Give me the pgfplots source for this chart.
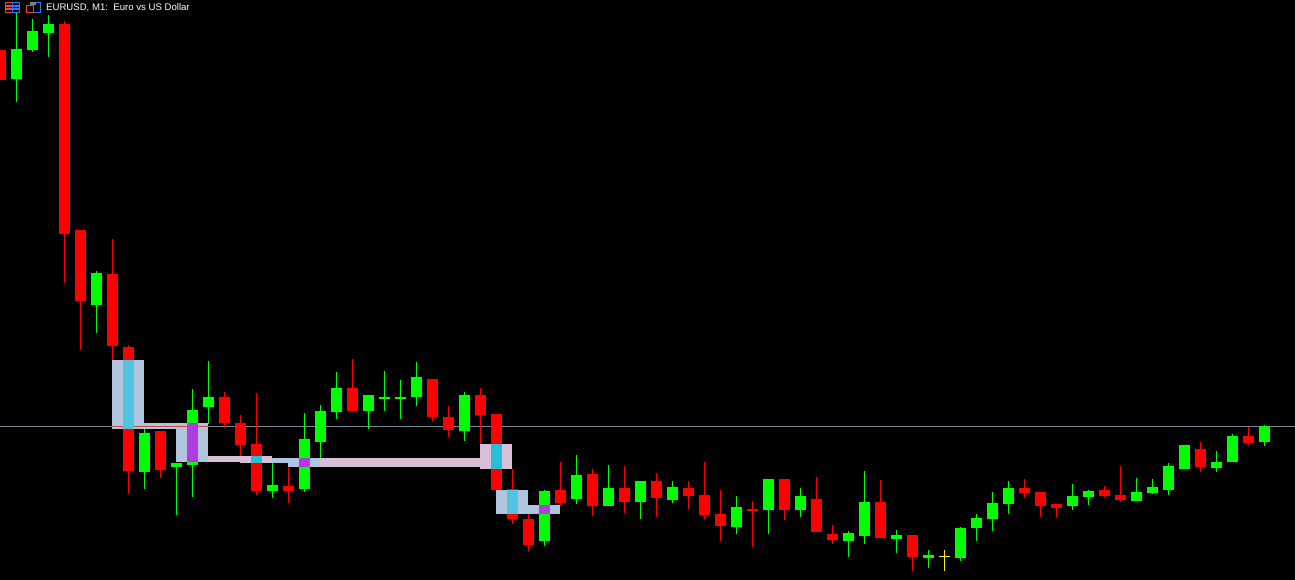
\documentclass[border=0pt]{standalone}
\usepackage{fontspec}
\setmainfont{Liberation Sans}
\usepackage{pgfplots}
\usepackage{pgfplotstable}
\pgfplotsset{compat=1.18}

\definecolor{bull}{RGB}{0,255,0}
\definecolor{bear}{RGB}{255,0,0}
\definecolor{lvl}{RGB}{119,136,153}
\definecolor{zblue}{RGB}{176,196,222}
\definecolor{zpink}{RGB}{216,191,216}
\definecolor{zcyan}{RGB}{79,196,222}
\definecolor{pcyan}{RGB}{39,191,216}
\definecolor{zpurple}{RGB}{176,59,222}
\definecolor{zline}{RGB}{199,76,71}
\definecolor{iconred}{RGB}{235,70,70}
\definecolor{iconblue}{RGB}{40,120,240}

% prices read as picture rows, y grows downward
% x: bar centre, high/low: wick ends, top/bot: body edges
\pgfplotstableread{
x high top bot low
16.5 12 49 79 102
32.5 19 31 50 52
48.5 15 24 33 57
96.5 271 273 305 333
144.5 429 433 472 489
176.5 463 463 467 515
192.5 389 410 465 497
208.5 361 397 407 424
272.5 463 485 491 498
304.5 413 439 489 492
320.5 405 411 442 458
336.5 372 388 412 419
368.5 395 395 411 429
384.5 371 397 399 411
400.5 380 397 399 419
416.5 362 377 397 406
464.5 392 395 431 441
544.5 490 491 541 546
576.5 455 475 499 504
608.5 465 488 506 506
640.5 481 481 502 519
672.5 481 487 500 503
736.5 496 507 527 534
768.5 479 479 510 534
800.5 488 496 510 517
848.5 531 533 541 557
864.5 471 502 536 544
896.5 530 535 539 553
928.5 550 555 558 568
960.5 527 528 558 561
976.5 514 518 528 541
992.5 492 503 519 531
1008.5 481 488 504 514
1072.5 484 496 506 510
1088.5 490 491 497 505
1136.5 478 492 501 501
1152.5 479 487 493 494
1168.5 463 466 490 495
1184.5 445 445 469 469
1216.5 451 462 468 472
1232.5 434 436 462 462
1264.5 425 426 442 446
}\upbars
\pgfplotstableread{
x high top bot low
0.5 50 50 80 80
64.5 21 24 234 283
80.5 230 230 301 350
112.5 239 274 346 360
128.5 345 347 471 494
160.5 431 431 470 478
224.5 392 397 423 428
240.5 415 423 445 457
256.5 393 444 491 495
288.5 467 486 491 503
352.5 359 388 411 411
432.5 379 379 417 421
448.5 406 417 430 437
480.5 388 395 415 444
496.5 414 414 490 490
512.5 469 489 519 524
528.5 514 519 545 551
560.5 462 490 503 506
592.5 469 474 506 516
624.5 466 488 502 513
656.5 473 481 498 517
688.5 481 488 496 509
704.5 462 495 515 519
720.5 490 514 526 541
752.5 501 509 511 547
784.5 479 479 510 520
816.5 477 499 532 532
832.5 525 534 540 544
880.5 480 502 538 538
912.5 535 535 557 571
1024.5 479 488 493 498
1040.5 492 492 506 517
1056.5 504 504 508 518
1104.5 486 490 496 497
1120.5 466 495 500 502
1200.5 442 449 467 472
1248.5 427 436 443 445
}\downbars
\pgfplotstableread{
x high top bot low
944.5 550 556 557 571
}\flatbars

% wicks and bodies are error bars of the high and top columns
\newcommand{\candles}[2]{
  \addplot[draw=none, forget plot, error bars/.cd, y dir=plus, y explicit,
    error mark=none, error bar style={draw=#2, line width=1.4pt}]
    table[x=x, y=high, y error plus expr=\thisrow{low}-\thisrow{high}] {#1};
  \addplot[draw=none, forget plot, error bars/.cd, y dir=plus, y explicit,
    error mark=none, error bar style={draw=#2, line width=11pt}]
    table[x=x, y=top, y error plus expr=\thisrow{bot}-\thisrow{top}] {#1};
}
\newcommand{\zone}[5]{
  \addplot[fill=#1, draw=none, forget plot]
    coordinates {(#2,#4) (#3,#4) (#3,#5) (#2,#5)} --cycle;
}

\begin{document}
\begin{tikzpicture}
\path[fill=black, use as bounding box] (0,0) rectangle (1295pt,580pt);
\begin{axis}[
  at={(0,0)}, anchor=south west,
  scale only axis, width=1295pt, height=580pt,
  xmin=0, xmax=1295, ymin=0, ymax=580,
  y dir=reverse,
  hide axis
]
% level line
\addplot[lvl, line width=1.2pt, forget plot] coordinates {(0,426.5) (1295,426.5)};

\candles{\upbars}{bull}
\candles{\downbars}{bear}
\candles{\flatbars}{yellow}

% zones
\zone{zblue}{112}{144}{360}{429}
\zone{zblue}{144}{176}{423}{429}
\zone{zblue}{176}{208}{423}{462}
\zone{zpink}{208}{240}{456}{462}
\zone{zpink}{240}{272}{456}{463}
\zone{zblue}{272}{288}{458}{463}
\zone{zblue}{288}{320}{458}{467}
\zone{zpink}{320}{480}{458}{467}
\zone{zpink}{480}{512}{444}{469}
\zone{zblue}{496}{528}{490}{514}
\zone{zblue}{528}{560}{505}{514}

% where a body lies under a zone
\zone{zcyan}{123}{134}{360}{429}
\zone{zpurple}{187}{198}{423}{462}
\zone{pcyan}{251}{262}{456}{463}
\zone{zpurple}{299}{310}{458}{467}
\zone{pcyan}{491}{502}{444}{469}
\zone{zcyan}{507}{518}{490}{514}
\zone{zpurple}{539}{550}{505}{514}

% level line across the zones
\addplot[zline, line width=1.2pt, forget plot] coordinates {(112,426.5) (123,426.5)};
\addplot[zline, line width=1.2pt, forget plot] coordinates {(134,426.5) (187,426.5)};
\addplot[zline, line width=1.2pt, forget plot] coordinates {(198,426.5) (208,426.5)};

\node[anchor=base west, text=white, font=\fontsize{9.6}{10}\selectfont, inner sep=0pt]
  at (axis cs:46,11) {EURUSD, M1:\ \ Euro vs US Dollar};

% toolbar icons
\draw[iconred, line width=1.3pt] (axis cs:5.5,2.5) rectangle (axis cs:12.5,12.5);
\draw[iconblue, line width=1.3pt] (axis cs:12.5,2.5) rectangle (axis cs:19.5,12.5);
\draw[iconred, line width=1.3pt] (axis cs:5.5,6) -- (axis cs:12,6) (axis cs:5.5,9) -- (axis cs:12,9);
\draw[iconblue, line width=1.3pt] (axis cs:13,6) -- (axis cs:19,6) (axis cs:13,9) -- (axis cs:19,9);
\draw[iconred, line width=1.3pt] (axis cs:26.5,5.5) -- (axis cs:26.5,12.5) -- (axis cs:33.5,12.5) -- (axis cs:33.5,5.5) -- cycle;
\draw[iconblue, line width=1.3pt] (axis cs:33.5,2.5) -- (axis cs:40.5,2.5) -- (axis cs:40.5,12.5) -- (axis cs:33.5,12.5) -- cycle;
\fill[gray] (axis cs:30,2) rectangle (axis cs:36,5);
\end{axis}
\end{tikzpicture}
\end{document}
